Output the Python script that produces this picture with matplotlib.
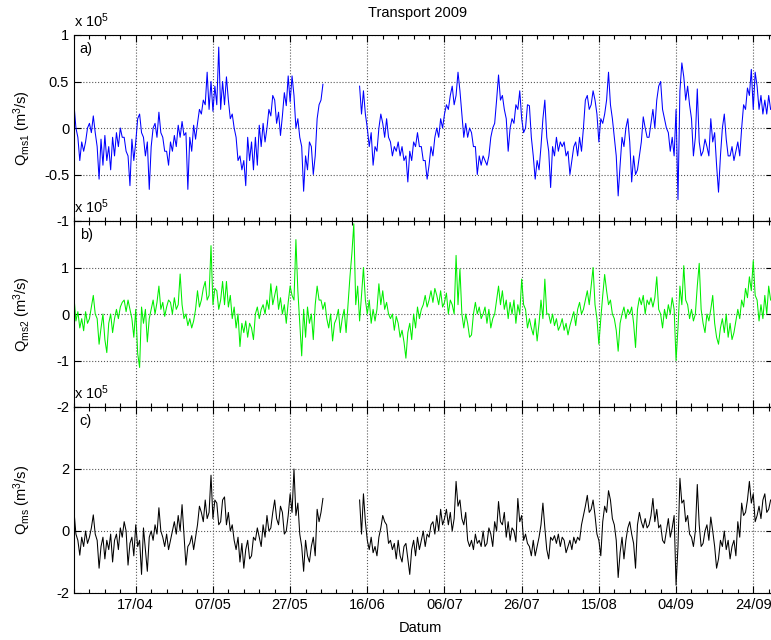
import numpy as np
import matplotlib
matplotlib.use('Agg')
import matplotlib.pyplot as plt
import matplotlib.dates as mdates

plt.rcParams['font.family'] = ['Liberation Sans', 'DejaVu Sans']
plt.rcParams['mathtext.default'] = 'regular'

nan = np.nan

# two readings per day (12 h apart), starting 1 April 2009, units of 1e5 m3/s
qms1 = [
    0.25, 0.0, -0.1, -0.35, -0.15, -0.25, -0.15, 0.0, 0.05, -0.05, 0.13, -0.05, -0.2, -0.55, -0.12, -0.4, -0.08, -0.35, -0.2, -0.45,
    -0.1, -0.3, -0.05, -0.2, 0.0, -0.1, -0.1, -0.25, -0.3, -0.62, -0.12, -0.35, -0.15, 0.1, 0.15, -0.05, -0.1, -0.3, -0.15, -0.66,
    -0.2, 0.0, 0.05, -0.1, 0.17, -0.05, -0.1, -0.25, -0.25, -0.4, -0.15, -0.25, -0.08, -0.2, 0.03, -0.1, 0.07, -0.08, -0.05, -0.66,
    -0.1, -0.25, 0.03, -0.12, 0.05, 0.2, 0.15, 0.3, 0.25, 0.6, 0.2, 0.5, 0.18, 0.45, 0.25, 0.87, 0.2, 0.5, 0.25, 0.55,
    0.3, 0.1, 0.15, 0.0, -0.1, -0.35, -0.3, -0.45, -0.35, -0.62, -0.1, -0.35, -0.15, -0.45, -0.1, -0.4, 0.03, -0.2, 0.05, -0.15,
    0.0, 0.2, 0.13, 0.35, 0.3, 0.05, 0.17, -0.08, 0.13, 0.38, 0.24, 0.56, 0.28, 0.56, 0.35, 0.0, 0.1, -0.1, -0.2, -0.68,
    -0.3, -0.45, -0.15, -0.2, -0.5, -0.3, 0.1, 0.25, 0.3, 0.47, nan, nan, nan, nan, nan, nan, nan, nan, nan, nan,
    nan, nan, nan, nan, nan, nan, nan, nan, 0.45, 0.15, 0.4, 0.15, 0.0, -0.2, -0.05, -0.4, -0.2, -0.25, 0.0, 0.15,
    0.05, -0.1, 0.1, -0.1, -0.15, -0.3, -0.2, -0.25, -0.15, -0.3, -0.2, -0.35, -0.3, -0.58, -0.25, -0.35, -0.15, -0.2, -0.05, -0.2,
    -0.2, -0.35, -0.35, -0.55, -0.4, -0.2, -0.3, -0.1, 0.0, -0.1, 0.1, 0.0, 0.15, 0.25, 0.2, 0.35, 0.45, 0.25, 0.35, 0.6,
    0.4, 0.15, -0.1, 0.05, -0.1, 0.0, -0.05, -0.2, -0.2, -0.5, -0.3, -0.4, -0.3, -0.35, -0.4, -0.3, -0.1, 0.0, 0.05, 0.3,
    0.57, 0.3, 0.35, 0.2, 0.1, -0.25, 0.0, 0.1, 0.05, 0.25, 0.2, 0.4, 0.1, -0.05, 0.0, 0.25, 0.24, -0.1, -0.3, -0.55,
    -0.35, -0.45, -0.2, 0.1, 0.3, -0.1, -0.25, -0.64, -0.2, -0.3, -0.1, -0.25, -0.15, -0.2, -0.15, -0.3, -0.25, -0.5, -0.35, -0.2,
    -0.15, -0.3, -0.1, -0.25, 0.0, 0.3, 0.35, 0.2, 0.25, 0.4, 0.3, 0.15, -0.15, 0.1, 0.05, 0.15, 0.3, 0.6, 0.25, 0.1,
    -0.1, -0.3, -0.73, -0.4, -0.1, -0.2, 0.0, 0.1, -0.15, -0.58, -0.3, -0.5, -0.45, -0.3, -0.15, 0.12, 0.0, -0.1, -0.1, 0.05,
    0.2, 0.0, 0.3, 0.45, 0.5, 0.2, 0.1, 0.0, -0.05, -0.25, -0.1, -0.3, 0.2, -0.77, 0.4, 0.7, 0.55, 0.3, 0.45, 0.25,
    0.1, -0.3, -0.1, 0.42, -0.15, -0.3, -0.25, -0.12, -0.2, -0.3, 0.1, -0.15, -0.05, -0.4, -0.69, -0.3, 0.0, 0.15, -0.12, -0.3,
    -0.3, -0.2, -0.35, -0.25, -0.15, -0.3, 0.0, 0.25, 0.2, 0.43, 0.35, 0.63, 0.2, 0.6, 0.45, 0.2, 0.35, 0.15, 0.3, 0.15,
    0.35, 0.2,
]

qms2 = [
    0.36, -0.15, 0.05, -0.3, -0.1, -0.36, 0.05, -0.2, -0.1, 0.15, 0.4, 0.0, -0.1, -0.65, -0.3, 0.0, -0.55, -0.83, -0.2, 0.0,
    -0.4, -0.1, 0.1, -0.1, 0.15, 0.25, 0.3, 0.05, 0.3, 0.1, -0.1, -0.5, 0.1, -0.85, -1.15, 0.15, -0.2, 0.1, -0.6, -0.1,
    0.1, 0.3, 0.0, 0.25, 0.6, 0.1, 0.25, -0.05, 0.15, 0.3, 0.25, 0.0, 0.35, 0.1, 0.2, 0.86, 0.2, -0.1, 0.0, -0.25,
    -0.1, -0.3, -0.15, 0.1, 0.5, 0.15, 0.3, 0.55, 0.7, 0.3, 0.4, 1.47, 0.2, 0.55, 0.5, 0.1, 0.3, 0.7, 0.2, 0.7,
    0.15, 0.4, -0.1, 0.15, -0.3, 0.0, -0.7, -0.2, -0.4, -0.15, -0.5, -0.2, -0.3, -0.55, 0.0, 0.15, -0.1, 0.1, 0.2, 0.0,
    0.3, 0.1, 0.65, 0.2, 0.4, 0.6, 0.1, 0.35, 0.0, 0.2, -0.2, 0.25, 0.6, 0.4, 0.3, 1.6, 0.5, -0.2, -0.9, 0.1,
    -0.5, 0.15, -0.2, 0.0, -0.55, 0.2, 0.6, 0.3, 0.3, 0.1, 0.25, -0.1, -0.3, 0.0, -0.58, -0.2, -0.1, 0.1, -0.4, -0.1,
    0.1, -0.4, 0.2, 0.8, 1.3, 1.94, 0.2, 0.6, -0.15, 0.4, 1.0, 0.3, 0.0, 0.3, -0.2, 0.1, -0.15, 0.1, 0.65, 0.2,
    0.5, 0.1, 0.25, 0.0, -0.1, 0.0, -0.35, -0.05, -0.2, -0.5, -0.35, -0.6, -0.95, -0.4, -0.2, -0.55, 0.0, -0.3, 0.15, -0.1,
    0.1, 0.2, 0.4, 0.15, 0.3, 0.5, 0.25, 0.55, 0.4, 0.2, 0.5, 0.15, 0.25, 0.45, 0.0, 0.3, 0.2, 0.0, 1.26, 0.2,
    0.97, 0.0, -0.3, 0.0, -0.2, -0.5, -0.45, 0.0, 0.25, 0.0, 0.15, -0.1, 0.0, 0.15, -0.2, 0.1, -0.3, -0.1, 0.0, 0.3,
    0.6, 0.2, 0.5, 0.1, 0.3, -0.1, 0.25, 0.0, 0.3, -0.2, 0.2, 0.0, 0.75, 0.2, 0.1, -0.3, -0.1, -0.3, -0.45, -0.1,
    -0.58, -0.2, 0.3, -0.1, 0.75, 0.0, 0.0, -0.2, 0.0, -0.25, -0.1, -0.35, -0.25, -0.1, -0.35, -0.2, -0.45, -0.25, -0.1, 0.05,
    -0.25, 0.1, 0.25, 0.0, 0.1, 0.3, 0.5, 0.2, 0.6, 1.0, 0.2, -0.1, -0.65, -0.1, 0.4, 0.85, 0.5, 0.2, 0.3, 0.0,
    -0.1, -0.35, -0.8, -0.2, 0.0, 0.15, -0.1, 0.1, 0.0, 0.15, -0.2, -0.72, 0.1, 0.35, 0.2, 0.4, 0.0, 0.3, 0.2, 0.35,
    0.15, 0.35, 0.8, 0.1, 0.0, -0.3, 0.1, -0.1, 0.2, 0.0, 0.35, 0.1, -1.0, -0.3, 0.6, 0.2, 1.04, 0.3, 0.2, -0.1,
    0.1, -0.15, 0.0, 0.6, 1.09, 0.1, -0.2, -0.4, 0.0, -0.15, 0.1, 0.4, -0.2, -0.5, -0.65, -0.3, -0.1, -0.4, 0.0, -0.5,
    -0.2, -0.55, -0.4, -0.15, 0.1, -0.1, 0.3, 0.15, 0.55, 0.35, 0.8, 0.5, 1.15, 0.4, 0.3, -0.15, 0.2, -0.1, 0.4, 0.0,
    0.6, 0.3,
]

qms = [
    0.63, -0.1, -0.3, -0.78, -0.2, -0.5, 0.0, -0.4, -0.2, 0.1, 0.52, -0.1, -0.3, -1.2, -0.5, -0.2, -0.9, -0.3, -0.6, -0.1,
    -1.0, -0.3, -0.1, -0.6, 0.1, -0.2, 0.3, 0.0, -1.1, -0.4, -0.2, -0.8, 0.2, -0.5, -0.3, -1.4, 0.1, -0.6, -1.3, -0.2,
    0.0, -0.3, 0.2, -0.1, 0.75, 0.0, -0.2, -0.5, -0.1, -0.6, -0.3, 0.0, 0.3, -0.1, 0.5, 0.0, 0.85, -0.1, -1.1, -0.5,
    -0.4, -0.15, -0.6, -0.2, 0.2, 0.8, 0.6, 0.3, 1.0, 0.4, 0.6, 1.8, 0.4, 1.0, 0.9, 0.2, 0.3, 1.0, 1.1, 0.2,
    0.6, 0.0, 0.2, -0.3, -0.6, -0.2, -1.0, -0.4, -1.2, -0.6, -0.3, -0.9, -0.8, -0.2, -0.3, 0.1, -0.2, -0.5, 0.2, -0.2,
    0.5, 0.0, 0.1, 0.6, 1.0, 0.4, 0.2, 0.8, 0.6, -0.1, 0.0, 0.5, 1.2, 0.6, 2.0, 0.5, 0.9, -0.1, -0.5, -1.3,
    -0.3, -0.8, -1.0, -0.5, -0.2, -0.8, 0.7, 0.3, 0.6, 1.05, nan, nan, nan, nan, nan, nan, nan, nan, nan, nan,
    nan, nan, nan, nan, nan, nan, nan, nan, 1.0, -0.1, 1.2, 0.3, -0.3, -0.6, -0.2, -0.7, -0.5, -0.8, -0.2, 0.1,
    0.5, 0.3, 0.2, -0.4, -0.3, -0.6, -0.4, -0.9, -0.3, -0.8, -1.0, -0.5, -0.4, -0.9, -1.4, -0.6, -0.3, -0.8, -0.2, -0.6,
    -0.3, 0.0, -0.5, -0.1, -0.2, 0.2, 0.3, -0.1, 0.5, 0.0, 0.7, 0.2, 0.4, 0.7, 0.2, 0.6, 0.0, 0.4, 1.6, 0.8,
    1.0, 0.4, 0.2, 0.6, -0.3, -0.5, -0.3, -0.6, -0.1, -0.4, -0.3, -0.5, 0.0, -0.5, -0.4, 0.1, -0.1, -0.5, 0.3, 0.0,
    0.95, 0.3, 0.2, 0.6, -0.2, 0.3, -0.3, 0.1, 0.0, -0.35, 1.05, 0.3, 0.5, -0.3, -0.1, -0.4, -0.5, -0.8, -0.3, -0.8,
    -0.5, -0.2, 0.2, 0.9, 0.1, -0.6, -0.9, -0.2, -0.3, -0.15, -0.4, -0.1, -0.5, -0.2, -0.3, -0.7, -0.5, -0.3, -0.6, -0.2,
    -0.4, -0.2, -0.3, 0.2, 0.5, 0.8, 1.15, 0.6, 0.7, 1.0, 0.5, -0.1, -0.3, -0.8, 0.3, 0.8, 0.6, 1.3, 1.0, 0.4,
    0.2, -0.3, -1.5, -0.7, -0.2, -0.9, -0.3, 0.1, 0.3, -0.1, -0.4, -1.2, 0.2, 0.6, 0.3, 0.1, 0.4, 0.1, 0.2, 0.5,
    1.05, 0.3, 0.7, 0.1, 0.2, -0.3, -0.4, 0.0, 0.4, -0.2, 0.1, 0.5, -1.75, -0.5, 1.7, 0.9, 1.0, 0.3, 0.5, -0.1,
    -0.2, -0.5, 0.0, 1.5, 0.2, -0.5, -0.4, 0.0, 0.2, -0.3, 0.45, 0.0, -0.5, -1.2, -0.9, -0.3, -0.5, 0.0, -0.6, -0.3,
    -0.9, -0.5, -0.3, -0.8, 0.3, -0.2, 0.9, 0.5, 0.6, 1.0, 1.6, 0.9, 1.2, 0.3, 0.5, 0.8, 0.4, 1.0, 1.2, 0.6,
    0.7, 1.0,
]

series = [qms1, qms2, qms]
panel_labels = ['a)', 'b)', 'c)']
ylabels = [r'Q$_{ms1}$ (m$^3$/s)', r'Q$_{ms2}$ (m$^3$/s)', r'Q$_{ms}$ (m$^3$/s)']
colors = ['#0000ff', '#00ee00', 'k']
ylims = [(-1, 1), (-2, 2), (-2, 4)]
yticks = [[-1, -0.5, 0, 0.5, 1], [-2, -1, 0, 1, 2], [-2, 0, 2, 4]]
yticklabels = [['-1', '-0.5', '0', '0.5', '1'], ['-2', '-1', '0', '1', ''], ['-2', '0', '2', '']]

start = np.datetime64('2009-04-01T00:00')
end = start + np.timedelta64(181, 'D')
major = np.arange(np.datetime64('2009-04-17'), np.datetime64('2009-09-30'), np.timedelta64(20, 'D'))
minor = np.arange(np.datetime64('2009-04-01'), np.datetime64('2009-10-01'), np.timedelta64(4, 'D'))

fig = plt.figure(figsize=(7.71, 6.4), dpi=100)
bottoms = [1 - 221/640, 1 - 407/640, 1 - 593/640]
h = 186/640
left = 74/771
w = 1.0 - left + 0.002

for i in range(3):
    y = np.array(series[i], dtype=float)
    assert len(y) == 362, (i, len(y))
    t = start + np.arange(len(y)) * np.timedelta64(12, 'h')
    ax = fig.add_axes([left, bottoms[i], w, h])
    ax.plot(t, y, color=colors[i], lw=0.75)
    ax.set_xlim(start, end)
    ax.set_ylim(*ylims[i])
    ax.set_yticks(yticks[i])
    ax.set_yticklabels(yticklabels[i])
    ax.set_xticks(major)
    ax.set_xticks(minor, minor=True)
    ax.xaxis.set_major_formatter(mdates.DateFormatter('%d/%m'))
    if i < 2:
        ax.tick_params(axis='x', which='both', labelbottom=False)
    ax.tick_params(which='major', direction='in', top=True, right=True, length=5, width=0.8, labelsize=10.5)
    ax.tick_params(which='minor', direction='in', top=True, right=True, length=3, width=0.8)
    ax.grid(True, which='major', linestyle=':', color='0.35', linewidth=0.8)
    for s in ax.spines.values():
        s.set_linewidth(0.8)
    ax.text(0.008, 0.965, panel_labels[i], transform=ax.transAxes, va='top', ha='left', fontsize=10.5)
    ax.text(0.0, 1.025, r'x 10$^{5}$', transform=ax.transAxes, va='bottom', ha='left', fontsize=10.5)
    ax.set_ylabel(ylabels[i], fontsize=10.5)
    ax.yaxis.set_label_coords(-0.058, 0.5)

fig.text(418/771, 1 - 13/640, 'Transport 2009', ha='center', va='center', fontsize=10.5)
fig.text(420/771, 1 - 628/640, 'Datum', ha='center', va='center', fontsize=10.5)

fig.savefig('out.png', dpi=100)
